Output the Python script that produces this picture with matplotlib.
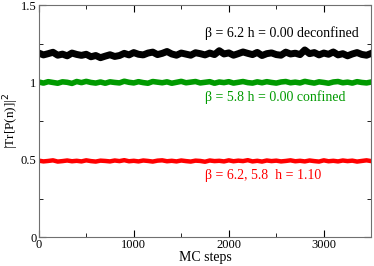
import numpy as np
import matplotlib.pyplot as plt

plt.rcParams['font.family'] = ['Liberation Serif', 'DejaVu Serif']

# MC history, one reading every 50 steps
steps = np.arange(0, 3501, 50)

deconf = [1.19, 1.178, 1.186, 1.195, 1.176, 1.183, 1.172, 1.19, 1.181, 1.175,
          1.182, 1.166, 1.174, 1.16, 1.17, 1.179, 1.168, 1.174, 1.188, 1.178,
          1.193, 1.182, 1.178, 1.19, 1.196, 1.18, 1.188, 1.2, 1.184, 1.176,
          1.19, 1.183, 1.176, 1.192, 1.186, 1.178, 1.19, 1.18, 1.205, 1.184,
          1.191, 1.176, 1.186, 1.197, 1.188, 1.18, 1.194, 1.174, 1.186, 1.191,
          1.18, 1.176, 1.196, 1.184, 1.189, 1.18, 1.21, 1.186, 1.193, 1.178,
          1.19, 1.182, 1.197, 1.178, 1.186, 1.172, 1.184, 1.193, 1.181, 1.176, 1.188]

conf = [1.003, 0.996, 1.005, 1.0, 0.995, 1.004, 1.001, 0.994, 1.006, 0.999,
        1.007, 1.0, 0.996, 1.003, 0.995, 1.004, 1.0, 0.997, 1.008, 1.001,
        0.997, 1.005, 0.999, 0.995, 1.006, 1.002, 0.998, 1.004, 0.995, 1.001,
        1.007, 0.998, 1.002, 1.006, 0.997, 1.001, 1.005, 0.995, 1.003, 0.999,
        1.005, 0.996, 1.001, 1.006, 0.999, 0.996, 1.004, 0.998, 1.005, 1.0,
        0.996, 1.003, 1.006, 0.998, 1.002, 0.997, 1.007, 1.001, 0.996, 1.004,
        1.0, 0.995, 1.003, 1.006, 0.998, 1.002, 0.996, 1.005, 1.0, 0.997, 1.003]

field = [0.495, 0.49, 0.493, 0.497, 0.489, 0.492, 0.496, 0.491, 0.494, 0.49,
         0.497, 0.492, 0.489, 0.495, 0.493, 0.49, 0.496, 0.492, 0.498, 0.491,
         0.494, 0.49, 0.496, 0.493, 0.489, 0.495, 0.497, 0.491, 0.494, 0.49,
         0.496, 0.492, 0.489, 0.495, 0.493, 0.488, 0.496, 0.492, 0.494, 0.49,
         0.497, 0.491, 0.495, 0.492, 0.498, 0.49, 0.494, 0.489, 0.496, 0.492,
         0.495, 0.49, 0.493, 0.497, 0.491, 0.494, 0.49, 0.496, 0.492, 0.489,
         0.497, 0.491, 0.494, 0.49, 0.496, 0.492, 0.495, 0.489, 0.493, 0.497, 0.492]

green = '#009a00'

fig = plt.figure(figsize=(3.74, 2.66), dpi=100)
ax = fig.add_axes([0.1035, 0.108, 0.8893, 0.873])

ax.plot(steps, deconf, color='black', lw=5)
ax.plot(steps, conf, color=green, lw=4)
ax.plot(steps, field, color='red', lw=3.2)

ax.text(1750, 1.32, 'β = 6.2 h = 0.00 deconfined', fontsize=10, va='center')
ax.text(1750, 0.906, 'β = 5.8 h = 0.00 confined', fontsize=10, va='center', color=green)
ax.text(1750, 0.396, 'β = 6.2, 5.8  h = 1.10', fontsize=10, va='center', color='red')

ax.set_xlim(0, 3500)
ax.set_ylim(0, 1.5)
ax.set_xticks([0, 1000, 2000, 3000])
ax.set_xticks([500, 1500, 2500, 3500], minor=True)
ax.set_yticks([0, 0.5, 1, 1.5])
ax.set_yticklabels(['0', '0.5', '1', '1.5'])
ax.set_yticks([0.25, 0.75, 1.25], minor=True)
ax.tick_params(which='both', direction='in', top=True, right=True, labelsize=9, pad=1.5)
ax.tick_params(which='major', length=5)
ax.tick_params(which='minor', length=3)
for s in ax.spines.values():
    s.set_color('#707070')

ax.set_xlabel('MC steps', fontsize=10, labelpad=0)
ax.set_ylabel('|Tr[P(n)]|$^2$', fontsize=9.5, labelpad=0)

fig.savefig('out.png', dpi=100)
